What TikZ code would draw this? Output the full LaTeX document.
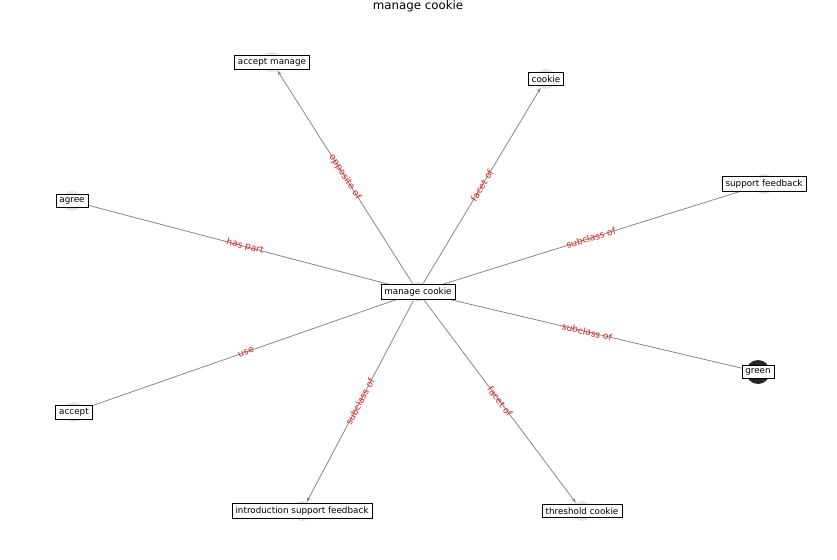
\documentclass[tikz,border=0pt]{standalone}
\usepackage{fontspec}
\setmainfont{DejaVu Sans}
\usetikzlibrary{arrows.meta}
\definecolor{edgegray}{RGB}{135,135,135}
\definecolor{nodegray}{RGB}{228,228,228}
\definecolor{labred}{RGB}{220,30,30}
\begin{document}
\begin{tikzpicture}[x=1pt,y=1pt,
  dot/.style={circle,fill=nodegray,inner sep=0pt,minimum size=20pt},
  darkdot/.style={circle,fill=black!85,inner sep=0pt,minimum size=24pt},
  box/.style={draw=black,fill=white,line width=0.6pt,inner xsep=3.5pt,inner ysep=3pt,font=\fontsize{8.8}{10}\selectfont},
  rel/.style={draw=edgegray,line width=0.8pt},
  relarr/.style={rel,-{Stealth[length=5pt,width=3.5pt]}},
  lab/.style={text=labred,font=\fontsize{9.2}{10}\selectfont,sloped,pos=0.5,inner sep=0pt}]
\useasboundingbox (0,0) rectangle (837,-559);
\node[font=\fontsize{11.8}{13}\selectfont] (title) at (418,-6) {manage cookie};
% node circles
\node[dot] (c) at (418,-292) {};
\node[dot] (am) at (272,-62) {};
\node[dot] (ck) at (546,-79) {};
\node[dot] (sf) at (764,-184) {};
\node[dot] (ag) at (72,-201) {};
\node[darkdot] (gr) at (758,-372) {};
\node[dot] (ac) at (74,-412) {};
\node[dot] (isf) at (302,-511) {};
\node[dot] (tc) at (582,-511) {};
% edges
\draw[relarr] (c) -- node[lab] {opposite of} (am);
\draw[relarr] (c) -- node[lab] {facet of} (ck);
\draw[rel] (c) -- node[lab] {subclass of} (sf);
\draw[rel] (ag) -- node[lab] {has part} (c);
\draw[rel] (c) -- node[lab] {subclass of} (gr);
\draw[rel] (ac) -- node[lab] {use} (c);
\draw[relarr] (c) -- node[lab] {subclass of} (isf);
\draw[relarr] (c) -- node[lab] {facet of} (tc);
% boxes
\node[box] (cb) at (c) {manage cookie};
\node[box] (amb) at (am) {accept manage};
\node[box] (ckb) at (ck) {cookie};
\node[box] (sfb) at (sf) {support feedback};
\node[box] (agb) at (ag) {agree};
\node[box] (grb) at (gr) {green};
\node[box] (acb) at (ac) {accept};
\node[box] (isfb) at (isf) {introduction support feedback};
\node[box] (tcb) at (tc) {threshold cookie};
\end{tikzpicture}
\end{document}
